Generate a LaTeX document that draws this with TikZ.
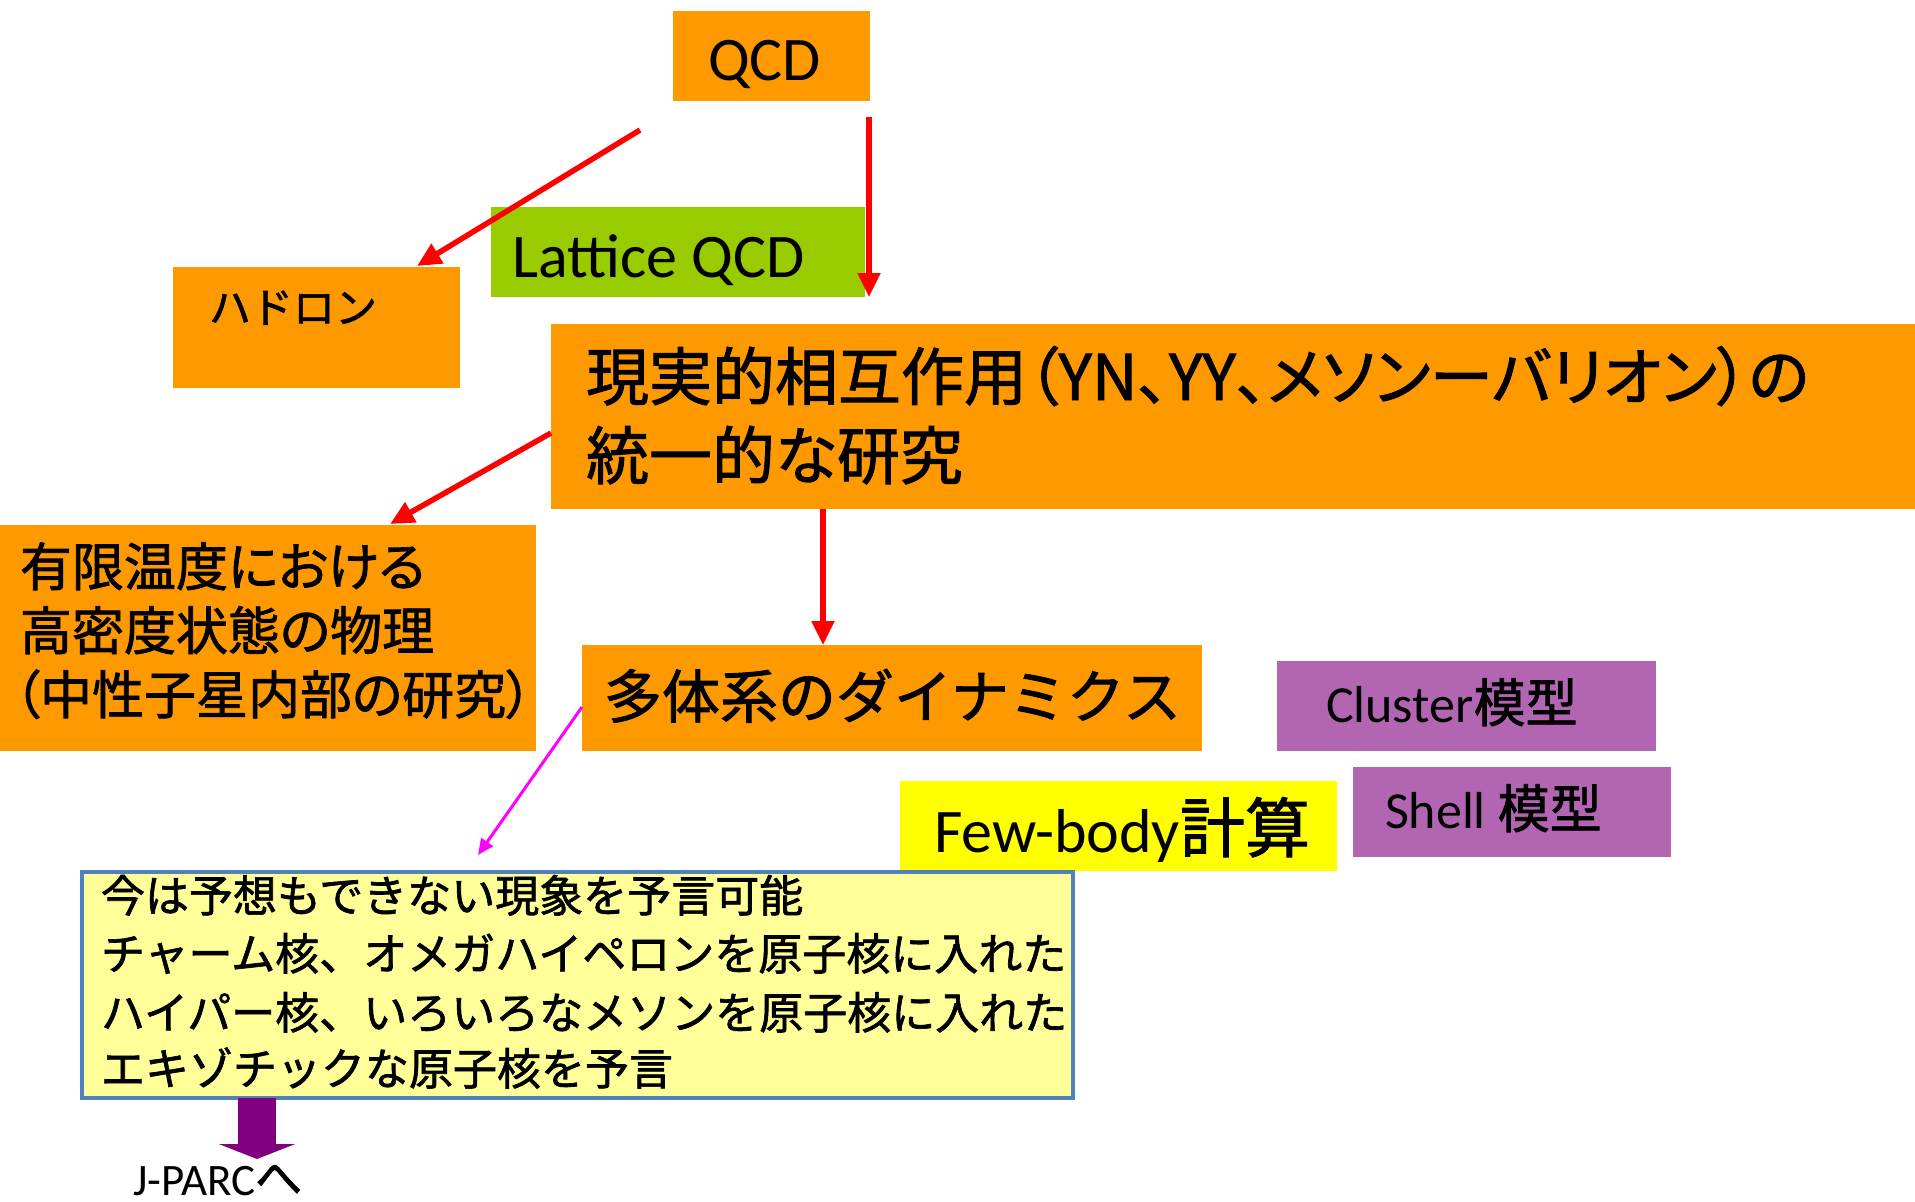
\documentclass[tikz,border=0pt]{standalone}
\usepackage{fontspec}
\setmainfont{Carlito}
\newfontfamily\jp[FakeBold=1.5]{Noto Sans CJK JP}
\newfontfamily\jpp[RawFeature={+palt},FakeBold=1.5]{Noto Sans CJK JP}
\usetikzlibrary{arrows.meta}
\definecolor{orng}{HTML}{FF9900}
\definecolor{lgreen}{HTML}{99CC00}
\definecolor{violetbox}{HTML}{B266B2}
\definecolor{ybox}{HTML}{FFFF00}
\definecolor{notefill}{HTML}{FFFF99}
\definecolor{noteline}{HTML}{4F81BD}
\definecolor{arrred}{HTML}{FF0000}
\definecolor{arrmag}{HTML}{FF00FF}
\definecolor{arrpur}{HTML}{800080}
\newcommand{\fsz}[1]{\fontsize{#1}{#1}\selectfont}
\begin{document}
\begin{tikzpicture}[x=1pt,y=-1pt,
  boxshape/.style={rectangle, inner sep=0pt, outer sep=0pt, anchor=north west},
  lbl/.style={inner sep=0pt, outer sep=0pt, anchor=base west},
  redarrow/.style={draw=arrred, line width=5.5pt, -{Triangle[length=24pt,width=22pt]}},
]
\useasboundingbox (0,0) rectangle (1915,1202);
\fill[white] (0,0) rectangle (1915,1202);

% boxes
\node[boxshape, fill=orng, minimum width=197pt, minimum height=90pt] (qcd) at (673,11) {};
\node[boxshape, fill=lgreen, minimum width=374pt, minimum height=90pt] (lattice) at (491,207) {};
\node[boxshape, fill=orng, minimum width=287pt, minimum height=121pt] (hadron) at (173,267) {};
\node[boxshape, fill=orng, minimum width=1364pt, minimum height=185pt] (big) at (551,324) {};
\node[boxshape, fill=orng, minimum width=536pt, minimum height=226pt] (fin) at (0,525) {};
\node[boxshape, fill=orng, minimum width=620pt, minimum height=106pt] (dyn) at (582,645) {};
\node[boxshape, fill=violetbox, minimum width=379pt, minimum height=90pt] (cluster) at (1277,661) {};
\node[boxshape, fill=violetbox, minimum width=318pt, minimum height=90pt] (shell) at (1353,767) {};
\node[boxshape, fill=ybox, minimum width=437pt, minimum height=90pt] (few) at (900,781) {};
\node[boxshape, fill=notefill, draw=noteline, line width=4.5pt, minimum width=991pt, minimum height=226pt] (note) at (82,872) {};

% labels
\node[lbl, font=\fsz{62}] (qcdtxt) at (708,80) {QCD};
\node[lbl, font=\fsz{62}] (lattxt) at (512,277) {Lattice QCD};
\node[lbl, font=\jp\fsz{42}] (hadtxt) at (209,323) {ハドロン};
\node[lbl, font=\jpp\fsz{63}] (bigone) at (586,400) {現実的相互作用（YN、YY、メソンーバリオン）の};
\node[lbl, font=\jpp\fsz{63}] (bigtwo) at (586,479) {統一的な研究};
\node[lbl, font=\jpp\fsz{52}] (finone) at (20,586) {有限温度における};
\node[lbl, font=\jpp\fsz{52}] (fintwo) at (20,650) {高密度状態の物理};
\node[lbl, font=\jpp\fsz{52}] (finthree) at (14,714) {（中性子星内部の研究）};
\node[lbl, font=\jp\fsz{58}] (dyntxt) at (604,718) {多体系のダイナミクス};
\node[lbl, font=\fsz{52}] (clutxt) at (1326,722) {Cluster{\jp 模型}};
\node[lbl, font=\fsz{52}] (shetxt) at (1385,828) {Shell {\jp 模型}};
\node[lbl, font=\fsz{62}] (fewtxt) at (934,852) {Few-body{\jp\fsz{65}計算}};
\node[lbl, font=\jp\fsz{44}] (noteone) at (101,912) {今は予想もできない現象を予言可能};
\node[lbl, font=\jp\fsz{44}] (notetwo) at (101,970) {チャーム核、オメガハイペロンを原子核に入れた};
\node[lbl, font=\jp\fsz{44}] (notethree) at (101,1029) {ハイパー核、いろいろなメソンを原子核に入れた};
\node[lbl, font=\jp\fsz{44}] (notefour) at (101,1085) {エキゾチックな原子核を予言};
\node[lbl, font=\fsz{45}] (jparc) at (133,1195) {J-PARC{\jp\fsz{47}へ}};

% arrows
\coordinate (ras) at (640,130);
\coordinate (rae) at (417,266);
\coordinate (rbs) at (869,117);
\coordinate (rbe) at (869,297);
\coordinate (rcs) at (551,433);
\coordinate (rce) at (390,524);
\coordinate (rds) at (823,509);
\coordinate (rde) at (823,645);
\coordinate (mgs) at (582,707);
\coordinate (mge) at (478,855);
\coordinate (pus) at (257,1098);
\coordinate (pue) at (257,1159);
\draw[redarrow] (ras) -- (rae);
\draw[redarrow] (rbs) -- (rbe);
\draw[redarrow] (rcs) -- (rce);
\draw[redarrow] (rds) -- (rde);
\draw[arrmag, line width=3pt, -{Triangle[length=16pt,width=14pt]}] (mgs) -- (mge);
\draw[arrpur, line width=38pt, -{Triangle[length=15pt,width=76pt]}] (pus) -- (pue);
\end{tikzpicture}
\end{document}
